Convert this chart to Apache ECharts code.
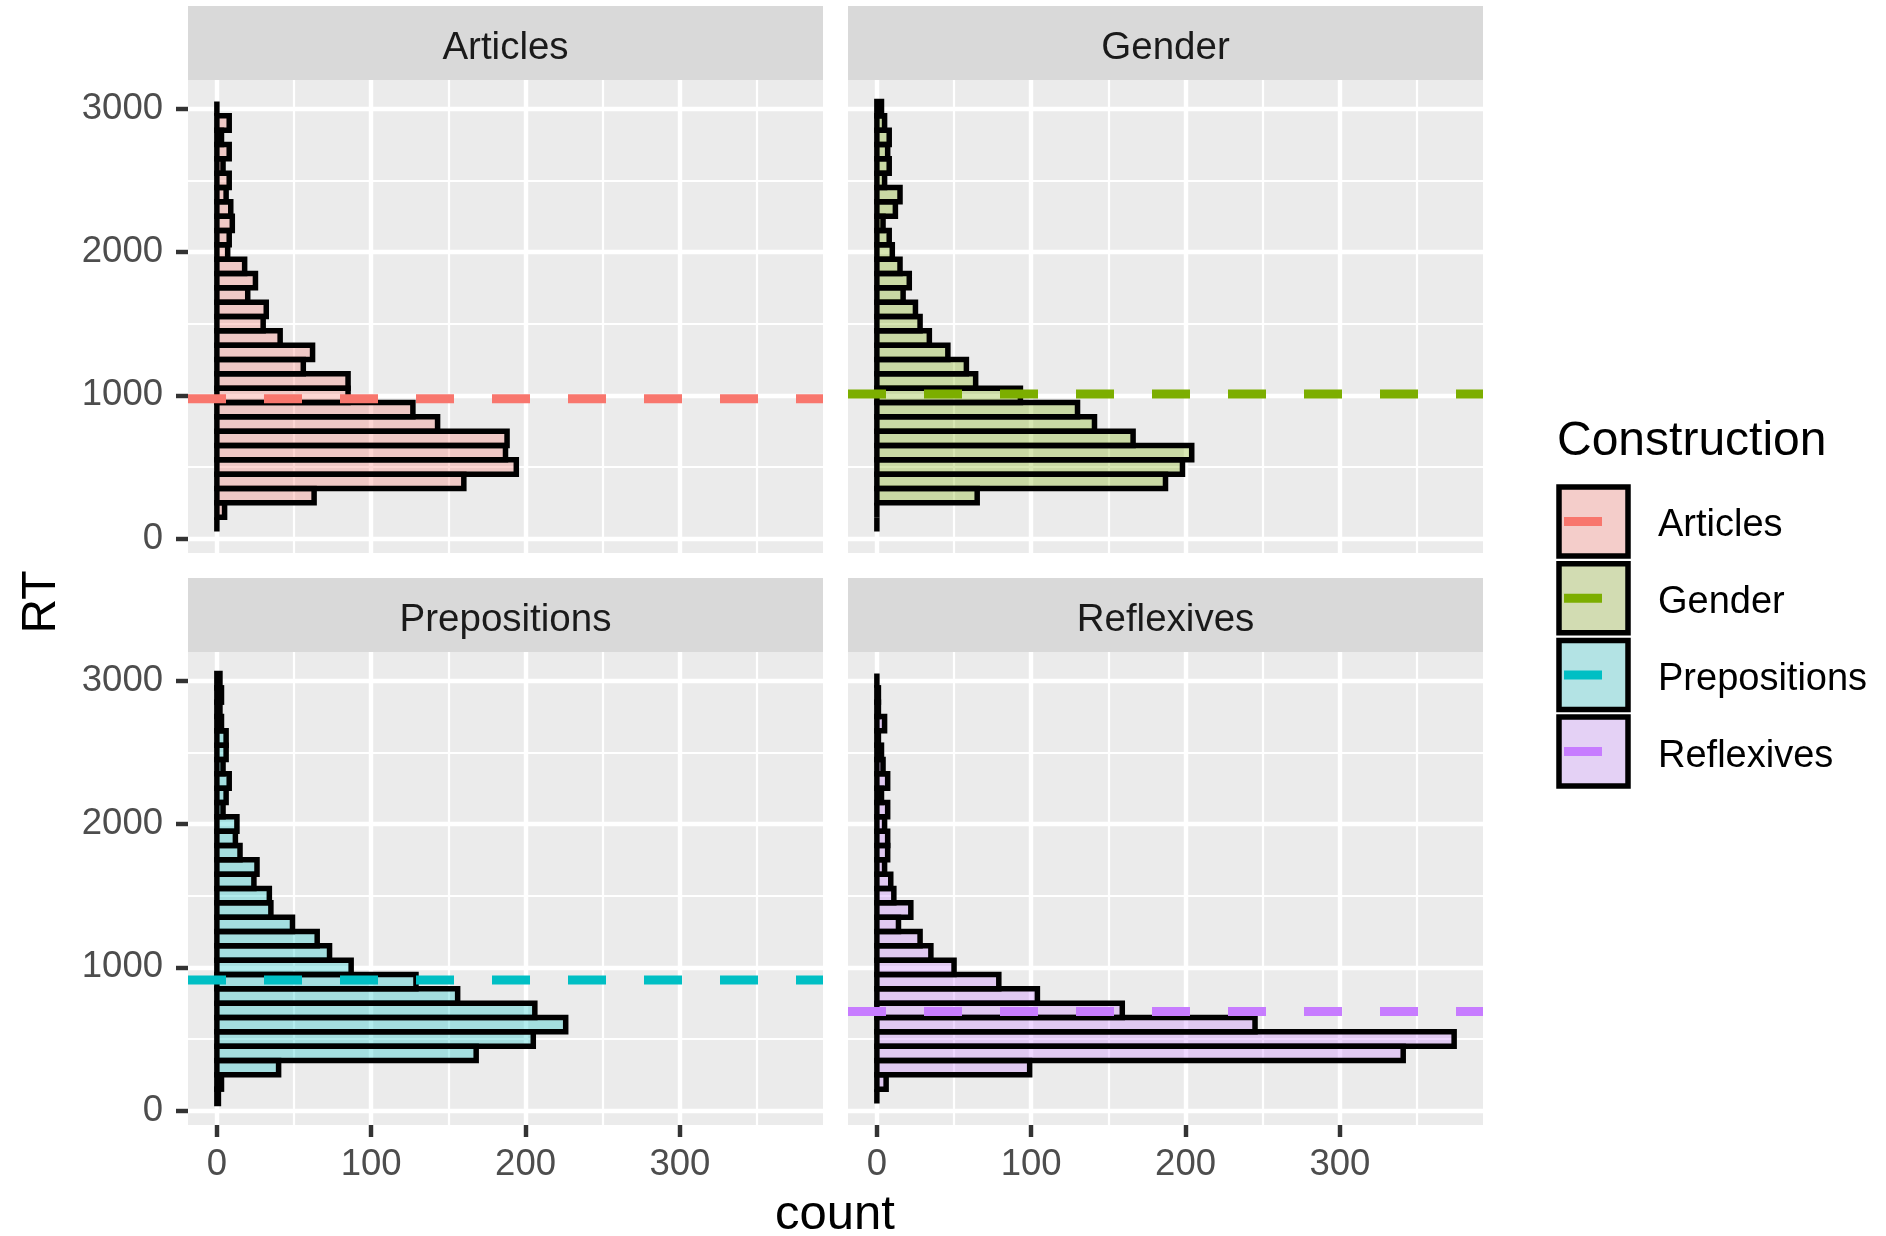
<!DOCTYPE html>
<html><head><meta charset="utf-8">
<script src="https://cdn.jsdelivr.net/npm/echarts@6/dist/echarts.min.js"></script>
<style>html,body{margin:0;padding:0;background:#fff}#chart{width:1886px;height:1236px}</style>
</head><body><div id="chart"></div>
<script>
// ---------- data ----------
const constructions = ['Articles', 'Gender', 'Prepositions', 'Reflexives'];
const binCenters = [100, 200, 300, 400, 500, 600, 700, 800, 900, 1000,
  1100, 1200, 1300, 1400, 1500, 1600, 1700, 1800, 1900, 2000,
  2100, 2200, 2300, 2400, 2500, 2600, 2700, 2800, 2900, 3000];
const binWidth = 100;
const articlesCounts = [0, 5, 63, 160, 194, 187, 188, 143, 127, 85,
  85, 56, 62, 41, 30, 32, 20, 25, 18, 7,
  8, 10, 9, 6, 8, 4, 8, 3, 8, 0];
const genderCounts = [0, 0, 65, 187, 198, 204, 166, 141, 130, 93,
  64, 58, 46, 34, 28, 25, 17, 21, 15, 10,
  8, 4, 12, 15, 5, 8, 7, 8, 5, 3];
const prepositionsCounts = [1, 3, 40, 168, 205, 226, 206, 156, 129, 87,
  73, 65, 49, 35, 34, 24, 26, 15, 12, 13,
  4, 6, 8, 4, 6, 6, 3, 2, 3, 2];
const reflexivesCounts = [0, 6, 99, 341, 374, 245, 159, 104, 79, 50,
  35, 28, 14, 22, 11, 9, 5, 7, 7, 5,
  7, 3, 7, 4, 3, 1, 5, 1, 1, 0];
const meanRT = [977, 1010, 911, 691];
const countTicks = [0, 100, 200, 300];
const countMinorTicks = [50, 150, 250, 350];
const rtTicks = [0, 1000, 2000, 3000];
const rtMinorTicks = [500, 1500, 2500];
const countRange = [-18.7, 392.7];
const rtRange = [-100, 3200];

// ---------- style / layout ----------
const countsByPanel = [articlesCounts, genderCounts, prepositionsCounts, reflexivesCounts];
const lineColors = ['#F8766D', '#7CAE00', '#00BFC4', '#C77CFF'];
const fillColors = ['rgba(248,118,109,0.3)', 'rgba(124,174,0,0.3)', 'rgba(0,191,196,0.3)', 'rgba(199,124,255,0.3)'];
const keyFillColors = ['#F4CDCA', '#D2DCB2', '#B3E3E4', '#E4D1F5'];
const FONT = "'Liberation Sans', Arial, Helvetica, sans-serif";
const PW = 635, PH = 473, STRIP = 74;
const panelPos = [[188, 80], [848, 80], [188, 652], [848, 652]];
const GRID_LW = 4.45, BAR_LW = 5.5;
const plain = v => String(v);

const grids = [], xAxes = [], yAxes = [], series = [], graphics = [];

panelPos.forEach(([left, top], i) => {
  const bottomRow = i >= 2, leftCol = i % 2 === 0;
  grids.push({left: left, top: top, width: PW, height: PH, show: true,
    backgroundColor: '#EBEBEB', borderWidth: 0, containLabel: false});
  xAxes.push({gridIndex: i, type: 'value', min: countRange[0], max: countRange[1], position: 'bottom',
    axisLine: {show: false, onZero: false},
    axisTick: {show: bottomRow, customValues: countTicks, length: 12, lineStyle: {color: '#333333', width: GRID_LW}},
    axisLabel: {show: bottomRow, customValues: countTicks, formatter: plain, margin: 21, color: '#4D4D4D', fontSize: 36.5, fontFamily: FONT},
    splitLine: {show: true, lineStyle: {color: '#FFFFFF', width: GRID_LW}}
  });
  xAxes.push({gridIndex: i, type: 'value', min: countRange[0], max: countRange[1], position: 'top',
    axisLine: {show: false, onZero: false},
    axisTick: {show: false, customValues: countMinorTicks},
    axisLabel: {show: false, customValues: countMinorTicks},
    splitLine: {show: true, lineStyle: {color: '#FFFFFF', width: 2.2}}
  });
  yAxes.push({gridIndex: i, type: 'value', min: rtRange[0], max: rtRange[1], position: 'left',
    axisLine: {show: false, onZero: false},
    axisTick: {show: leftCol, customValues: rtTicks, length: 12, lineStyle: {color: '#333333', width: GRID_LW}},
    axisLabel: {show: leftCol, customValues: rtTicks, formatter: plain, margin: 25, padding: [4, 0, 0, 0],
      color: '#4D4D4D', fontSize: 36.5, fontFamily: FONT},
    splitLine: {show: true, lineStyle: {color: '#FFFFFF', width: GRID_LW}}
  });
  yAxes.push({gridIndex: i, type: 'value', min: rtRange[0], max: rtRange[1], position: 'right',
    axisLine: {show: false, onZero: false},
    axisTick: {show: false, customValues: rtMinorTicks},
    axisLabel: {show: false, customValues: rtMinorTicks},
    splitLine: {show: true, lineStyle: {color: '#FFFFFF', width: 2.2}}
  });

  const counts = countsByPanel[i];
  series.push({
    type: 'custom', name: constructions[i],
    xAxisIndex: 2 * i, yAxisIndex: 2 * i,
    encode: {x: 1, y: 0},
    data: binCenters.map((c, k) => [c, counts[k]]),
    z: 3,
    renderItem: (params, api) => {
      const c = api.value(0), n = api.value(1);
      const p0 = api.coord([0, c + binWidth / 2]);
      const p1 = api.coord([n, c - binWidth / 2]);
      return {type: 'rect',
        shape: {x: p0[0], y: p0[1], width: p1[0] - p0[0], height: p1[1] - p0[1]},
        style: {fill: fillColors[i], stroke: '#000000', lineWidth: BAR_LW, lineJoin: 'miter'}};
    }
  });
  series.push({
    type: 'line', name: constructions[i] + ' mean',
    xAxisIndex: 2 * i, yAxisIndex: 2 * i,
    data: [[countRange[0], meanRT[i]], [countRange[1], meanRT[i]]],
    symbol: 'none', silent: true, z: 5,
    lineStyle: {color: lineColors[i], width: 9, type: [38, 38], cap: 'butt'}
  });

  graphics.push({type: 'rect', shape: {x: left, y: top - STRIP, width: PW, height: STRIP},
    style: {fill: '#D9D9D9'}, silent: true});
  graphics.push({type: 'text', x: left + PW / 2, y: top - STRIP / 2 + 5,
    style: {text: constructions[i], fill: '#1A1A1A', font: '38.5px ' + FONT, align: 'center', verticalAlign: 'middle'}, silent: true});
});

graphics.push({type: 'text', x: 835, y: 1215,
  style: {text: 'count', fill: '#000000', font: '49px ' + FONT, align: 'center', verticalAlign: 'middle'}});
graphics.push({type: 'text', x: 42, y: 602, rotation: Math.PI / 2,
  style: {text: 'RT', fill: '#000000', font: '48px ' + FONT, align: 'center', verticalAlign: 'middle'}});

graphics.push({type: 'text', x: 1557, y: 442,
  style: {text: 'Construction', fill: '#000000', font: '48px ' + FONT, align: 'left', verticalAlign: 'middle'}});
constructions.forEach((name, i) => {
  const y0 = 487 + i * 76.7;
  graphics.push({type: 'rect', shape: {x: 1559, y: y0, width: 69, height: 69},
    style: {fill: keyFillColors[i], stroke: '#000000', lineWidth: BAR_LW}});
  graphics.push({type: 'rect', shape: {x: 1564, y: y0 + 34.5 - 4.5, width: 38, height: 9},
    style: {fill: lineColors[i]}});
  graphics.push({type: 'text', x: 1658, y: y0 + 39,
    style: {text: name, fill: '#000000', font: '38px ' + FONT, align: 'left', verticalAlign: 'middle'}});
});

const chart = echarts.init(document.getElementById('chart'), null, {renderer: 'canvas'});
chart.setOption({
  animation: false,
  backgroundColor: '#FFFFFF',
  grid: grids, xAxis: xAxes, yAxis: yAxes, series: series, graphic: graphics
});
</script></body></html>
